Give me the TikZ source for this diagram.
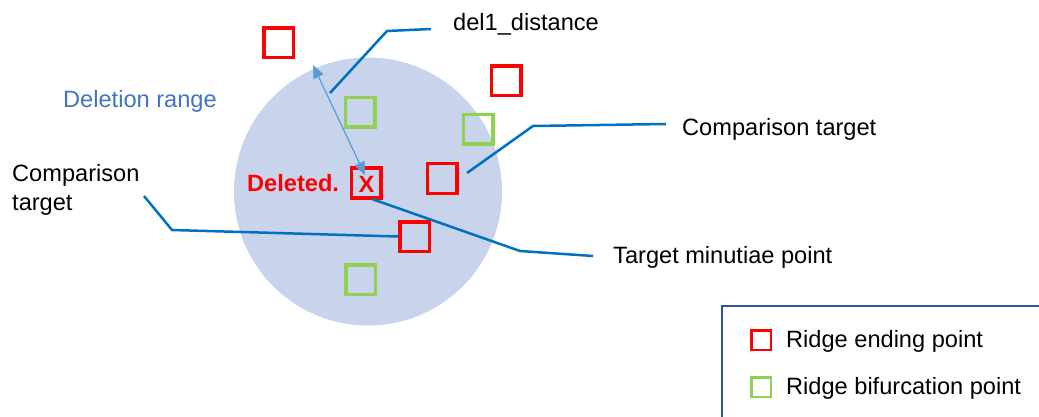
\documentclass[tikz,border=0pt]{standalone}
\usepackage{fontspec}
\setmainfont{Liberation Sans}
\usetikzlibrary{arrows.meta}
\definecolor{cfill}{RGB}{199,212,236}
\definecolor{cred}{RGB}{255,0,0}
\definecolor{cgreen}{RGB}{146,208,80}
\definecolor{ccall}{RGB}{0,112,192}
\definecolor{carrow}{RGB}{91,155,213}
\definecolor{crange}{RGB}{68,114,196}
\definecolor{cleg}{RGB}{47,85,151}
\tikzset{
  redsq/.style={draw=cred, line width=3.5pt, minimum size=29.5pt, inner sep=0pt},
  greensq/.style={draw=cgreen, line width=3.5pt, minimum size=29.5pt, inner sep=0pt},
  legred/.style={draw=cred, line width=2.5pt, minimum size=19.5pt, inner sep=0pt},
  leggreen/.style={draw=cgreen, line width=2.5pt, minimum size=19.5pt, inner sep=0pt},
  callout/.style={draw=ccall, line width=2.5pt},
  lbl/.style={inner sep=0pt, anchor=base west, font=\fontsize{23.6}{28}\selectfont},
}
\begin{document}
\begin{tikzpicture}[x=1pt,y=-1pt]
\useasboundingbox (0,0) rectangle (1039,417);
% deletion range circle
\fill[cfill] (368,191.5) circle (134);
% squares
\node[redsq] (r1) at (278.5,43) {};
\node[redsq] (r2) at (506,81) {};
\node[greensq] (g1) at (360,112.5) {};
\node[greensq] (g2) at (478,129.5) {};
\node[redsq] (rx) at (366,183) {};
\node[redsq] (r3) at (442,178.5) {};
\node[redsq] (r4) at (414.5,236.5) {};
\node[greensq] (g3) at (360.5,279.5) {};
\node[inner sep=0pt, text=cred, font=\fontsize{23.6}{28}\selectfont\bfseries] (xm) at (366.5,184) {X};
% deletion distance arrow
\coordinate (edge) at (313,65);
\coordinate (xtip) at (365,175);
\draw[carrow, line width=1.2pt, {Triangle[length=13pt,width=11pt]}-{Triangle[length=13pt,width=11pt]}] (edge) -- (xtip);
% labels
\node[lbl] (dist) at (453,31) {del1\_distance};
\node[lbl, text=crange] (range) at (63,108) {Deletion range};
\node[lbl] (cmpr) at (682,136) {Comparison target};
\node[lbl] (tgt) at (613,263) {Target minutiae point};
\node[lbl] (cmpl1) at (12,182) {Comparison};
\node[lbl] (cmpl2) at (12,210) {target};
\node[lbl, text=cred, font=\fontsize{23.6}{28}\selectfont\bfseries] (del) at (247,192) {Deleted.};
% callouts
\coordinate (dA) at (330,93);
\draw[callout] (dA) -- (387,31) -- (431,29);
\coordinate (cA) at (467,173);
\draw[callout] (cA) -- (533,126) -- (666,124);
\coordinate (tA) at (372,199);
\draw[callout] (tA) -- (520,251) -- (593,256);
\coordinate (lA) at (144,196);
\draw[callout] (lA) -- (172,230) -- (r4.west);
% legend
\draw[cleg, line width=2pt] (1050,306) -- (722,306) -- (722,430);
\node[legred] (lr) at (761,340) {};
\node[leggreen] (lg) at (761,387) {};
\node[lbl] (lrt) at (786,347) {Ridge ending point};
\node[lbl] (lgt) at (786,394) {Ridge bifurcation point};
\end{tikzpicture}
\end{document}
